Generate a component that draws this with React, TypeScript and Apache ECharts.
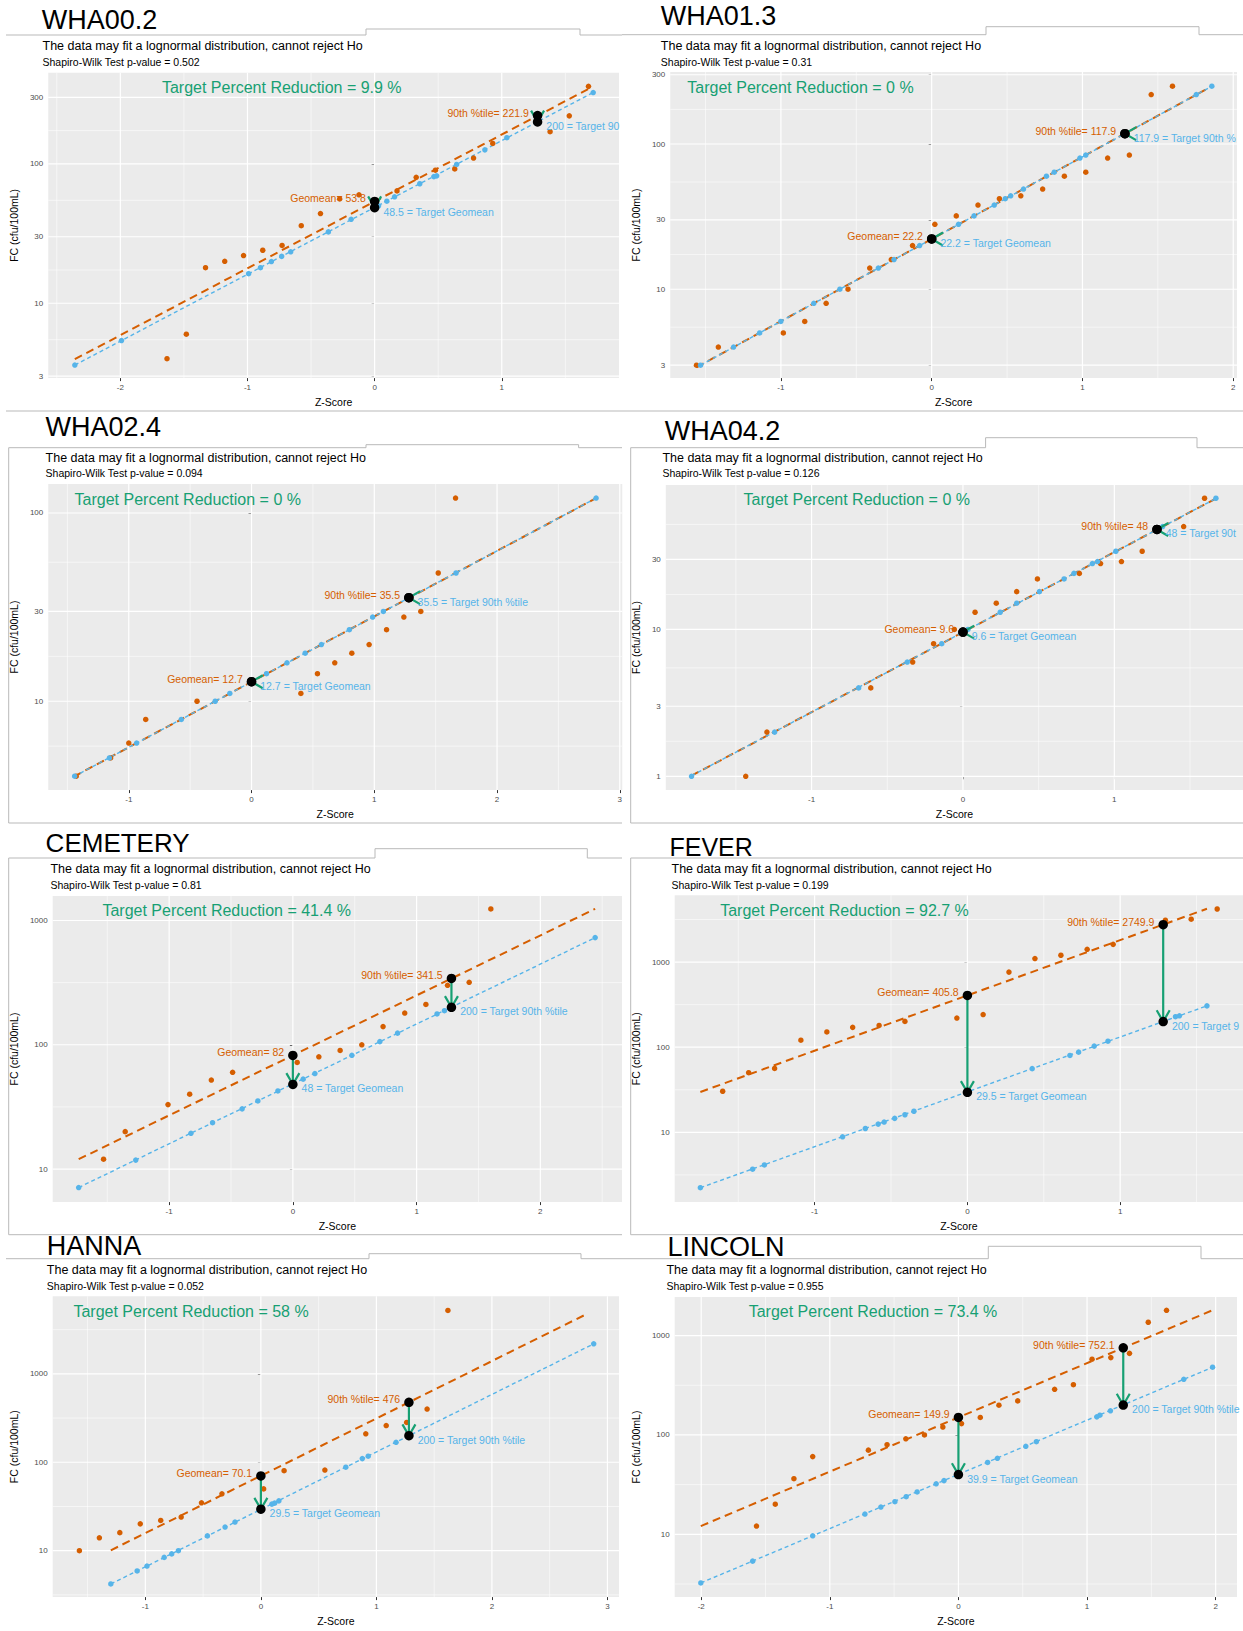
import React, { useEffect, useRef } from "react";
import * as echarts from "echarts";

const FONT = '"Liberation Sans", Arial, Helvetica, sans-serif';
const ORANGE = "#D55E00";
const BLUE = "#56B4E9";
const GREEN = "#17A073";
const FRAME = "#b9b9b9";
const Z90 = 1.2816;
const SUBTITLE = "The data may fit a lognormal distribution, cannot reject Ho";

// ---------------- DATA (z-score, FC cfu/100mL) ----------------
// WHA00.2
const WHA002_ORANGE = [[-1.633, 4], [-1.481, 6], [-1.33, 18], [-1.179, 20], [-1.031, 22], [-0.88, 24], [-0.728, 26], [-0.577, 36], [-0.426, 44], [-0.275, 56], [-0.123, 60], [0.176, 64], [0.327, 80], [0.478, 90], [0.63, 92], [0.778, 110], [0.929, 140], [1.38, 170], [1.531, 221], [1.682, 360]];
const WHA002_BLUE = [[-2.358, 3.6], [-1.991, 5.4], [-0.991, 16.3], [-0.898, 18], [-0.812, 19.9], [-0.731, 21.7], [-0.66, 23.4], [-0.364, 32.5], [-0.185, 40], [0.031, 50], [0.096, 54], [0.157, 58], [0.355, 72], [0.466, 81], [0.488, 82], [0.645, 99], [0.867, 126], [1.04, 154], [1.719, 325]];
const WHA002_ORANGE_LINE = [[-2.358, 3.97], [1.68, 344]];
const WHA002_BLUE_LINE = [[-2.358, 3.6], [1.719, 325]];
const WHA002_STATS = [53.8, 221.9, 48.5, 200]; // geomean, 90th, target geomean, target 90th

// WHA01.3
const WHA013_ORANGE = [[-1.56, 3], [-1.415, 4], [-0.984, 5], [-0.842, 6], [-0.7, 8], [-0.555, 10], [-0.411, 14], [-0.268, 16], [-0.127, 20], [0.021, 28], [0.163, 32], [0.307, 38], [0.449, 42], [0.591, 44], [0.736, 49], [0.88, 60], [1.022, 64], [1.167, 80], [1.311, 84], [1.456, 219], [1.597, 250]];
const WHA013_BLUE = [[-1.533, 3], [-1.314, 4], [-1.141, 5], [-1.001, 6], [-0.782, 8], [-0.609, 10], [-0.354, 14], [-0.25, 16], [-0.08, 20], [0.178, 28], [0.281, 32], [0.415, 38], [0.488, 42], [0.524, 44], [0.609, 49], [0.761, 60], [0.813, 64], [0.983, 80], [1.022, 84], [1.755, 219], [1.858, 250]];
const WHA013_ORANGE_LINE = [[-1.56, 2.9], [1.858, 250]];
const WHA013_BLUE_LINE = [[-1.533, 3.0], [1.858, 250]];
const WHA013_STATS = [22.2, 117.9, 22.2, 117.9];

// WHA02.4
const WHA024_ORANGE = [[-1.428, 4], [-1.148, 5], [-1.0, 6], [-0.862, 8], [-0.444, 10], [0.402, 11], [0.537, 14], [0.678, 16], [0.817, 18], [0.958, 20], [1.1, 24], [1.241, 28], [1.379, 30], [1.521, 48], [1.662, 120]];
const WHA024_BLUE = [[-1.441, 4], [-1.158, 5], [-0.936, 6], [-0.572, 8], [-0.296, 10], [-0.177, 11], [0.122, 14], [0.289, 16], [0.437, 18], [0.569, 20], [0.797, 24], [0.987, 28], [1.074, 30], [1.666, 48], [2.807, 120]];
const WHA024_ORANGE_LINE = [[-1.447, 3.98], [2.807, 120]];
const WHA024_BLUE_LINE = [[-1.447, 3.98], [2.807, 120]];
const WHA024_STATS = [12.7, 35.5, 12.7, 35.5];

// WHA04.2
const WHA042_ORANGE = [[-1.435, 1], [-1.295, 2], [-0.609, 4], [-0.332, 6], [-0.194, 8], [-0.057, 10], [0.08, 13.1], [0.22, 15.1], [0.355, 18.1], [0.492, 22.1], [0.769, 24.1], [0.909, 28.1], [1.047, 29], [1.184, 34.1], [1.458, 50.2], [1.596, 78.3]];
const WHA042_BLUE = [[-1.793, 1], [-1.244, 2], [-0.689, 4], [-0.368, 6], [-0.14, 8], [0.033, 10], [0.246, 13.1], [0.355, 15.1], [0.505, 18.1], [0.668, 22.1], [0.733, 24.1], [0.855, 28.1], [0.889, 29], [1.01, 34.1], [1.319, 50.2], [1.671, 78.3]];
const WHA042_ORANGE_LINE = [[-1.793, 1.01], [1.671, 78]];
const WHA042_BLUE_LINE = [[-1.793, 1.01], [1.671, 78]];
const WHA042_STATS = [9.6, 48, 9.6, 48];

// CEMETERY
const CEMETERY_ORANGE = [[-1.53, 12], [-1.355, 20], [-1.009, 33], [-0.834, 40], [-0.659, 52], [-0.487, 60], [0.035, 72], [0.21, 80], [0.382, 90], [0.557, 100], [0.729, 140], [0.904, 180], [1.075, 211], [1.25, 301], [1.425, 318], [1.6, 1239]];
const CEMETERY_BLUE = [[-1.731, 7.1], [-1.27, 11.8], [-0.824, 19.4], [-0.649, 23.6], [-0.41, 30.5], [-0.283, 35.3], [-0.121, 42.5], [0.083, 52.9], [0.178, 58.7], [0.477, 82.2], [0.703, 106], [0.846, 124], [1.165, 177], [1.225, 188], [2.443, 728]];
const CEMETERY_ORANGE_LINE = [[-1.731, 12.0], [2.443, 1241]];
const CEMETERY_BLUE_LINE = [[-1.731, 7.1], [2.443, 728]];
const CEMETERY_STATS = [82, 341.5, 48, 200];

// FEVER
const FEVER_ORANGE = [[-1.602, 30.4], [-1.432, 50.2], [-1.262, 56.4], [-1.09, 121], [-0.92, 151], [-0.751, 171], [-0.578, 180], [-0.409, 201], [-0.069, 220], [0.103, 242], [0.272, 762], [0.442, 1099], [0.612, 1202], [0.784, 1413], [0.954, 1614], [1.296, 3097], [1.465, 3185], [1.635, 4198]];
const FEVER_BLUE = [[-1.748, 2.24], [-1.406, 3.69], [-1.329, 4.14], [-0.817, 8.87], [-0.668, 11.1], [-0.584, 12.5], [-0.545, 13.2], [-0.476, 14.6], [-0.409, 16.1], [-0.35, 17.7], [0.424, 56], [0.671, 80], [0.728, 87.5], [0.83, 103], [0.92, 117.6], [1.362, 228], [1.388, 234], [1.568, 306]];
const FEVER_ORANGE_LINE = [[-1.748, 29.8], [1.568, 4227]];
const FEVER_BLUE_LINE = [[-1.748, 2.24], [1.568, 306]];
const FEVER_STATS = [405.8, 2749.9, 29.5, 200];

// HANNA
const HANNA_ORANGE = [[-1.571, 10], [-1.398, 14], [-1.221, 16], [-1.044, 20.1], [-0.867, 22], [-0.69, 24], [-0.514, 34.8], [-0.337, 44], [0.024, 50], [0.201, 80.3], [0.554, 81.6], [0.908, 210], [1.085, 260], [1.262, 282], [1.439, 400], [1.619, 5214]];
const HANNA_BLUE = [[-1.299, 4.2], [-1.071, 5.9], [-0.986, 6.7], [-0.837, 8.4], [-0.772, 9.2], [-0.714, 10], [-0.463, 14.7], [-0.31, 18.5], [-0.224, 21.1], [0.095, 33.6], [0.119, 34.5], [0.156, 36.6], [0.735, 88], [0.878, 110], [0.929, 117], [1.17, 168], [2.881, 2185]];
const HANNA_ORANGE_LINE = [[-1.299, 10.1], [2.83, 4820]];
const HANNA_BLUE_LINE = [[-1.299, 4.2], [2.881, 2185]];
const HANNA_STATS = [70.1, 476, 29.5, 200];

// LINCOLN
const LINCOLN_ORANGE = [[-1.57, 12.1], [-1.424, 20.1], [-1.279, 36.3], [-1.133, 60.5], [-0.7, 70.3], [-0.555, 79.8], [-0.409, 91.4], [-0.264, 100], [-0.121, 120], [0.024, 130], [0.17, 150], [0.315, 199], [0.461, 220], [0.748, 288], [0.894, 320], [1.039, 578], [1.185, 600], [1.33, 662], [1.476, 1361], [1.618, 1795]];
const LINCOLN_BLUE = [[-2.003, 3.24], [-1.6, 5.37], [-1.133, 9.65], [-0.727, 16.0], [-0.603, 18.8], [-0.494, 21.3], [-0.406, 23.9], [-0.321, 26.7], [-0.173, 32.2], [-0.112, 34.7], [0.227, 52.8], [0.303, 58.2], [0.524, 76.9], [0.606, 85.5], [1.076, 152], [1.1, 158], [1.182, 175], [1.752, 363], [1.976, 480]];
const LINCOLN_ORANGE_LINE = [[-2.003, 12.1], [1.976, 1800]];
const LINCOLN_BLUE_LINE = [[-2.003, 3.24], [1.976, 480]];
const LINCOLN_STATS = [149.9, 752.1, 39.9, 200];

// Panel texts
const NAMES = ["WHA00.2", "WHA01.3", "WHA02.4", "WHA04.2", "CEMETERY", "FEVER", "HANNA", "LINCOLN"];
const P_VALUES = ["0.502", "0.31", "0.094", "0.126", "0.81", "0.199", "0.052", "0.955"];
const REDUCTIONS = ["9.9", "0", "0", "0", "41.4", "92.7", "58", "73.4"];
// the part of the "Target 90th %tile" label that is visible inside each cropped panel
const TARGET90_TEXT = ["Target 90", "Target 90th %", "Target 90th %tile", "Target 90t", "Target 90th %tile", "Target 9", "Target 90th %tile", "Target 90th %tile"];
const X_TICKS = [[-2, -1, 0, 1], [-1, 0, 1, 2], [-1, 0, 1, 2, 3], [-1, 0, 1], [-1, 0, 1, 2], [-1, 0, 1], [-1, 0, 1, 2, 3], [-2, -1, 0, 1, 2]];
const Y_TICKS = [[3, 10, 30, 100, 300], [3, 10, 30, 100, 300], [10, 30, 100], [1, 3, 10, 30], [10, 100, 1000], [10, 100, 1000], [10, 100, 1000], [10, 100, 1000]];

const SERIES = [
  [WHA002_ORANGE, WHA002_BLUE, WHA002_ORANGE_LINE, WHA002_BLUE_LINE, WHA002_STATS],
  [WHA013_ORANGE, WHA013_BLUE, WHA013_ORANGE_LINE, WHA013_BLUE_LINE, WHA013_STATS],
  [WHA024_ORANGE, WHA024_BLUE, WHA024_ORANGE_LINE, WHA024_BLUE_LINE, WHA024_STATS],
  [WHA042_ORANGE, WHA042_BLUE, WHA042_ORANGE_LINE, WHA042_BLUE_LINE, WHA042_STATS],
  [CEMETERY_ORANGE, CEMETERY_BLUE, CEMETERY_ORANGE_LINE, CEMETERY_BLUE_LINE, CEMETERY_STATS],
  [FEVER_ORANGE, FEVER_BLUE, FEVER_ORANGE_LINE, FEVER_BLUE_LINE, FEVER_STATS],
  [HANNA_ORANGE, HANNA_BLUE, HANNA_ORANGE_LINE, HANNA_BLUE_LINE, HANNA_STATS],
  [LINCOLN_ORANGE, LINCOLN_BLUE, LINCOLN_ORANGE_LINE, LINCOLN_BLUE_LINE, LINCOLN_STATS],
];

// ---------------- LAYOUT (absolute page px) ----------------
type Layout = {
  div: number[]; // left, top, width, height
  title: number[]; // x, y(center), fontSize
  sub: number[]; // x, y1, y2
  plot: number[]; // x0, y0, x1, y1
  xlim: number[];
  ylim: number[]; // log10
  target: number[];
  yNameGap: number;
  xNameGap: number;
  frames: number[][][];
};

const LAYOUTS: Layout[] = [
  {
    div: [0, 0, 622, 412], title: [41.7, 19.5, 27], sub: [42.5, 45.7, 61.7], plot: [41.7, 72.7, 619, 381],
    xlim: [-2.567, 1.922], ylim: [0.463, 2.654], target: [161.9, 87.3], yNameGap: 20, xNameGap: 14.3,
    frames: [[[6, 35], [366, 35], [366, 29], [580, 29], [580, 35], [622, 35]], [[6, 411], [622, 411]]],
  },
  {
    div: [622, 0, 621, 412], title: [660.8, 15.5, 27], sub: [660.8, 45.7, 61.7], plot: [660.8, 72, 1237, 381],
    xlim: [-1.734, 2.025], ylim: [0.388, 2.496], target: [687.3, 87.3], yNameGap: 21, xNameGap: 14.3,
    frames: [[[622, 34.7], [986, 34.7], [986, 26.7], [1199, 26.7], [1199, 34.7], [1243, 34.7]], [[622, 411], [1243, 411]]],
  },
  {
    div: [0, 404, 625, 420], title: [45.6, 427, 27], sub: [45.6, 457.7, 473.3], plot: [45.6, 484, 622.7, 794],
    xlim: [-1.656, 3.02], ylim: [0.528, 2.154], target: [74.6, 499.3], yNameGap: 20.5, xNameGap: 14,
    frames: [[[8.7, 823], [8.7, 447.7], [366, 447.7], [366, 444.7], [578.6, 444.7], [578.6, 447.7], [622, 447.7]], [[8.7, 823], [622, 823]]],
  },
  {
    div: [622, 404, 621, 420], title: [664.8, 430.5, 27], sub: [662.4, 457.7, 473.3], plot: [662.4, 485, 1245, 793.3],
    xlim: [-1.963, 1.85], ylim: [-0.094, 1.984], target: [743.6, 499.3], yNameGap: 16.5, xNameGap: 14.3,
    frames: [[[630.7, 823], [630.7, 447.7], [985.6, 447.7], [985.6, 437.7], [1197, 437.7], [1197, 447.7], [1243, 447.7]], [[630.7, 823], [1243, 823]]],
  },
  {
    div: [0, 820, 622, 416], title: [45.6, 843, 26], sub: [50.4, 868.7, 884.7], plot: [50.4, 896, 624, 1204.7],
    xlim: [-1.941, 2.66], ylim: [0.734, 3.197], target: [102.4, 910.3], yNameGap: 25.5, xNameGap: 14.3,
    frames: [[[8.7, 1234.7], [8.7, 858], [375, 858], [375, 848.7], [587.3, 848.7], [587.3, 858], [622, 858]], [[8.7, 1234.7], [622, 1234.7]]],
  },
  {
    div: [622, 820, 621, 416], title: [669.5, 847, 25], sub: [671.5, 868.7, 884.7], plot: [671.5, 895.3, 1244, 1204.7],
    xlim: [-1.916, 1.804], ylim: [0.181, 3.784], target: [720.2, 910.3], yNameGap: 25.5, xNameGap: 14.3,
    frames: [[[630.7, 1234.7], [630.7, 858], [1243, 858]], [[630.7, 1234.7], [1243, 1234.7]]],
  },
  {
    div: [0, 1222, 622, 409], title: [46.8, 1246, 27], sub: [46.8, 1270.3, 1286], plot: [46.8, 1296.3, 619, 1605.3],
    xlim: [-1.802, 3.1], ylim: [0.475, 3.877], target: [73.4, 1311.3], yNameGap: 25, xNameGap: 13.2,
    frames: [[[6, 1258.7], [369, 1258.7], [369, 1253.7], [581, 1253.7], [581, 1258.7], [622, 1258.7]]],
  },
  {
    div: [622, 1222, 621, 409], title: [667.5, 1247, 27], sub: [666.4, 1270.3, 1286], plot: [665.6, 1297, 1237, 1606],
    xlim: [-2.206, 2.166], ylim: [0.368, 3.388], target: [748.7, 1311.3], yNameGap: 25.5, xNameGap: 12.8,
    frames: [[[622, 1258.7], [988.3, 1258.7], [988.3, 1246.3], [1201, 1246.3], [1201, 1258.7], [1243, 1258.7]]],
  },
];

const L = (v: number) => Math.log10(v);

function minorBreaks(majors: number[], lim: number[]): number[] {
  const b = [...majors];
  const bd = b[1] - b[0];
  if (lim[0] < b[0]) b.unshift(b[0] - bd);
  if (lim[1] > b[b.length - 1]) b.push(b[b.length - 1] + bd);
  const m: number[] = [];
  for (let i = 0; i < b.length - 1; i++) m.push((b[i] + b[i + 1]) / 2);
  return m.filter((v) => v > lim[0] && v < lim[1]);
}

function buildOption(i: number) {
  const lay = LAYOUTS[i];
  const [orange, blue, oLine, bLine, stats] = SERIES[i] as any;
  const [G, P, TG, TP] = stats as number[];
  const ox = lay.div[0];
  const oy = lay.div[1];
  const [x0, y0, x1, y1] = lay.plot;
  const xt = X_TICKS[i];
  const ytVals = Y_TICKS[i];
  const yt = ytVals.map(L);
  const xMinor = minorBreaks(xt, lay.xlim);
  const yMinor = minorBreaks(yt, lay.ylim);
  const toLog = (arr: number[][]) => arr.map((d) => [d[0], L(d[1])]);
  const loc = (pts: number[][]) => pts.map((p) => [p[0] - ox, p[1] - oy]);

  const textEl = (text: string, x: number, y: number, size: number, fill: string) => ({
    type: "text",
    x: x - ox,
    y: y - oy,
    z: 100,
    silent: true,
    style: { text, font: `${size}px ${FONT}`, fill, textAlign: "left", textVerticalAlign: "middle" },
  });

  const graphic: any[] = [
    textEl(NAMES[i], lay.title[0], lay.title[1], lay.title[2], "#000"),
    textEl(SUBTITLE, lay.sub[0], lay.sub[1], 12.5, "#000"),
    textEl(`Shapiro-Wilk Test p-value = ${P_VALUES[i]}`, lay.sub[0], lay.sub[2], 10.5, "#000"),
    textEl(`Target Percent Reduction = ${REDUCTIONS[i]} %`, lay.target[0], lay.target[1], 16, GREEN),
    ...lay.frames.map((f) => ({
      type: "polyline",
      z: 99,
      silent: true,
      shape: { points: loc(f) },
      style: { stroke: FRAME, lineWidth: 1, fill: null },
    })),
  ];

  const hGridData = [...yt.map((v) => [v, 1.2]), ...yMinor.map((v) => [v, 0.55])];
  const vGridData = [...xt.map((v) => [v, 1.2]), ...xMinor.map((v) => [v, 0.55])];

  const axisLabelStyle = { fontSize: 8, color: "#4d4d4d", fontFamily: FONT };

  return {
    animation: false,
    graphic,
    grid: {
      left: x0 - ox,
      top: y0 - oy,
      width: x1 - x0,
      height: y1 - y0,
      show: true,
      backgroundColor: "#EBEBEB",
      borderWidth: 0,
      containLabel: false,
    },
    xAxis: {
      type: "value",
      min: lay.xlim[0],
      max: lay.xlim[1],
      name: "Z-Score",
      nameLocation: "middle",
      nameGap: lay.xNameGap,
      nameTextStyle: { fontSize: 10.5, color: "#000", fontFamily: FONT },
      axisLine: { show: false },
      axisTick: { show: true, length: 3, lineStyle: { color: "#333", width: 1 }, customValues: xt },
      axisLabel: { ...axisLabelStyle, margin: 5, customValues: xt, formatter: (v: number) => String(Math.round(v)) },
      splitLine: { show: false },
    },
    yAxis: {
      type: "value",
      min: lay.ylim[0],
      max: lay.ylim[1],
      name: "FC (cfu/100mL)",
      nameLocation: "middle",
      nameGap: lay.yNameGap,
      nameTextStyle: { fontSize: 10.5, color: "#000", fontFamily: FONT },
      axisLine: { show: false },
      axisTick: { show: true, length: 3, lineStyle: { color: "#333", width: 1 }, customValues: yt },
      axisLabel: {
        ...axisLabelStyle,
        margin: 5,
        customValues: yt,
        formatter: (v: number) => {
          const t = ytVals.find((tv) => Math.abs(L(tv) - v) < 1e-6);
          return t === undefined ? "" : String(t);
        },
      },
      splitLine: { show: false },
    },
    series: [
      {
        type: "custom",
        silent: true,
        z: 1,
        data: hGridData,
        renderItem: (_p: any, api: any) => {
          const v = api.value(0);
          const a = api.coord([lay.xlim[0], v]);
          const b = api.coord([lay.xlim[1], v]);
          return { type: "line", shape: { x1: a[0], y1: a[1], x2: b[0], y2: b[1] }, style: { stroke: "#ffffff", lineWidth: api.value(1) } };
        },
      },
      {
        type: "custom",
        silent: true,
        z: 1,
        data: vGridData,
        renderItem: (_p: any, api: any) => {
          const v = api.value(0);
          const a = api.coord([v, lay.ylim[0]]);
          const b = api.coord([v, lay.ylim[1]]);
          return { type: "line", shape: { x1: a[0], y1: a[1], x2: b[0], y2: b[1] }, style: { stroke: "#ffffff", lineWidth: api.value(1) } };
        },
      },
      {
        type: "line",
        silent: true,
        z: 2,
        data: toLog(oLine),
        symbol: "none",
        lineStyle: { color: ORANGE, width: 2, type: [8, 5] },
      },
      {
        type: "line",
        silent: true,
        z: 2,
        data: toLog(bLine),
        symbol: "none",
        lineStyle: { color: BLUE, width: 1.4, type: [4, 3] },
      },
      {
        type: "scatter",
        silent: true,
        z: 3,
        data: toLog(orange),
        symbolSize: 5.5,
        itemStyle: { color: ORANGE, opacity: 1 },
      },
      {
        type: "scatter",
        silent: true,
        z: 3,
        data: toLog(blue),
        symbolSize: 5.5,
        itemStyle: { color: BLUE, opacity: 1 },
      },
      {
        type: "custom",
        silent: true,
        z: 4,
        data: [[0, L(G), L(TG)], [Z90, L(P), L(TP)]],
        encode: { x: 0, y: [1, 2] },
        renderItem: (_p: any, api: any) => {
          const z = api.value(0);
          const a = api.coord([z, api.value(1)]);
          const b = api.coord([z, api.value(2)]);
          const dx = b[0] - a[0];
          const dy = b[1] - a[1];
          const len = Math.hypot(dx, dy);
          let ux = -1;
          let uy = 0;
          if (len > 0.5) {
            ux = dx / len;
            uy = dy / len;
          }
          const ang = (30 * Math.PI) / 180;
          const AL = 13;
          const bx = -ux;
          const by = -uy;
          const r1 = [bx * Math.cos(ang) - by * Math.sin(ang), bx * Math.sin(ang) + by * Math.cos(ang)];
          const r2 = [bx * Math.cos(-ang) - by * Math.sin(-ang), bx * Math.sin(-ang) + by * Math.cos(-ang)];
          const p1 = [b[0] + r1[0] * AL, b[1] + r1[1] * AL];
          const p2 = [b[0] + r2[0] * AL, b[1] + r2[1] * AL];
          return {
            type: "group",
            children: [
              { type: "line", shape: { x1: a[0], y1: a[1], x2: b[0], y2: b[1] }, style: { stroke: GREEN, lineWidth: 2.2 } },
              { type: "polyline", shape: { points: [p1, b, p2] }, style: { stroke: GREEN, lineWidth: 2.2, fill: null } },
            ],
          };
        },
      },
      {
        type: "scatter",
        silent: true,
        z: 5,
        symbolSize: 9.5,
        itemStyle: { color: "#000", opacity: 1 },
        label: { show: true, position: "left", distance: 4, offset: [0, -3], color: ORANGE, fontSize: 10.5, fontFamily: FONT },
        data: [
          { value: [0, L(G)], label: { formatter: `Geomean= ${G}` } },
          { value: [Z90, L(P)], label: { formatter: `90th %tile= ${P}` } },
        ],
      },
      {
        type: "scatter",
        silent: true,
        z: 5,
        symbolSize: 9.5,
        itemStyle: { color: "#000", opacity: 1 },
        label: { show: true, position: "right", distance: 4, offset: [0, 4], color: BLUE, fontSize: 10.5, fontFamily: FONT },
        data: [
          { value: [0, L(TG)], label: { formatter: `${TG} = Target Geomean` } },
          { value: [Z90, L(TP)], label: { formatter: `${TP} = ${TARGET90_TEXT[i]}` } },
        ],
      },
    ],
  };
}

function PanelChart({ index }: { index: number }) {
  const ref = useRef<HTMLDivElement>(null);
  const lay = LAYOUTS[index];
  useEffect(() => {
    if (!ref.current) return;
    const chart = echarts.init(ref.current, undefined, { renderer: "svg" });
    chart.setOption(buildOption(index) as any);
    return () => chart.dispose();
  }, [index]);
  return (
    <div
      ref={ref}
      style={{
        position: "absolute",
        left: lay.div[0],
        top: lay.div[1],
        width: lay.div[2],
        height: lay.div[3],
        overflow: "hidden",
      }}
    />
  );
}

export default function App() {
  return (
    <div
      style={{
        position: "absolute",
        left: 0,
        top: 0,
        width: 1243,
        height: 1631,
        overflow: "hidden",
        background: "#ffffff",
      }}
    >
      {LAYOUTS.map((_, i) => (
        <PanelChart key={i} index={i} />
      ))}
    </div>
  );
}
